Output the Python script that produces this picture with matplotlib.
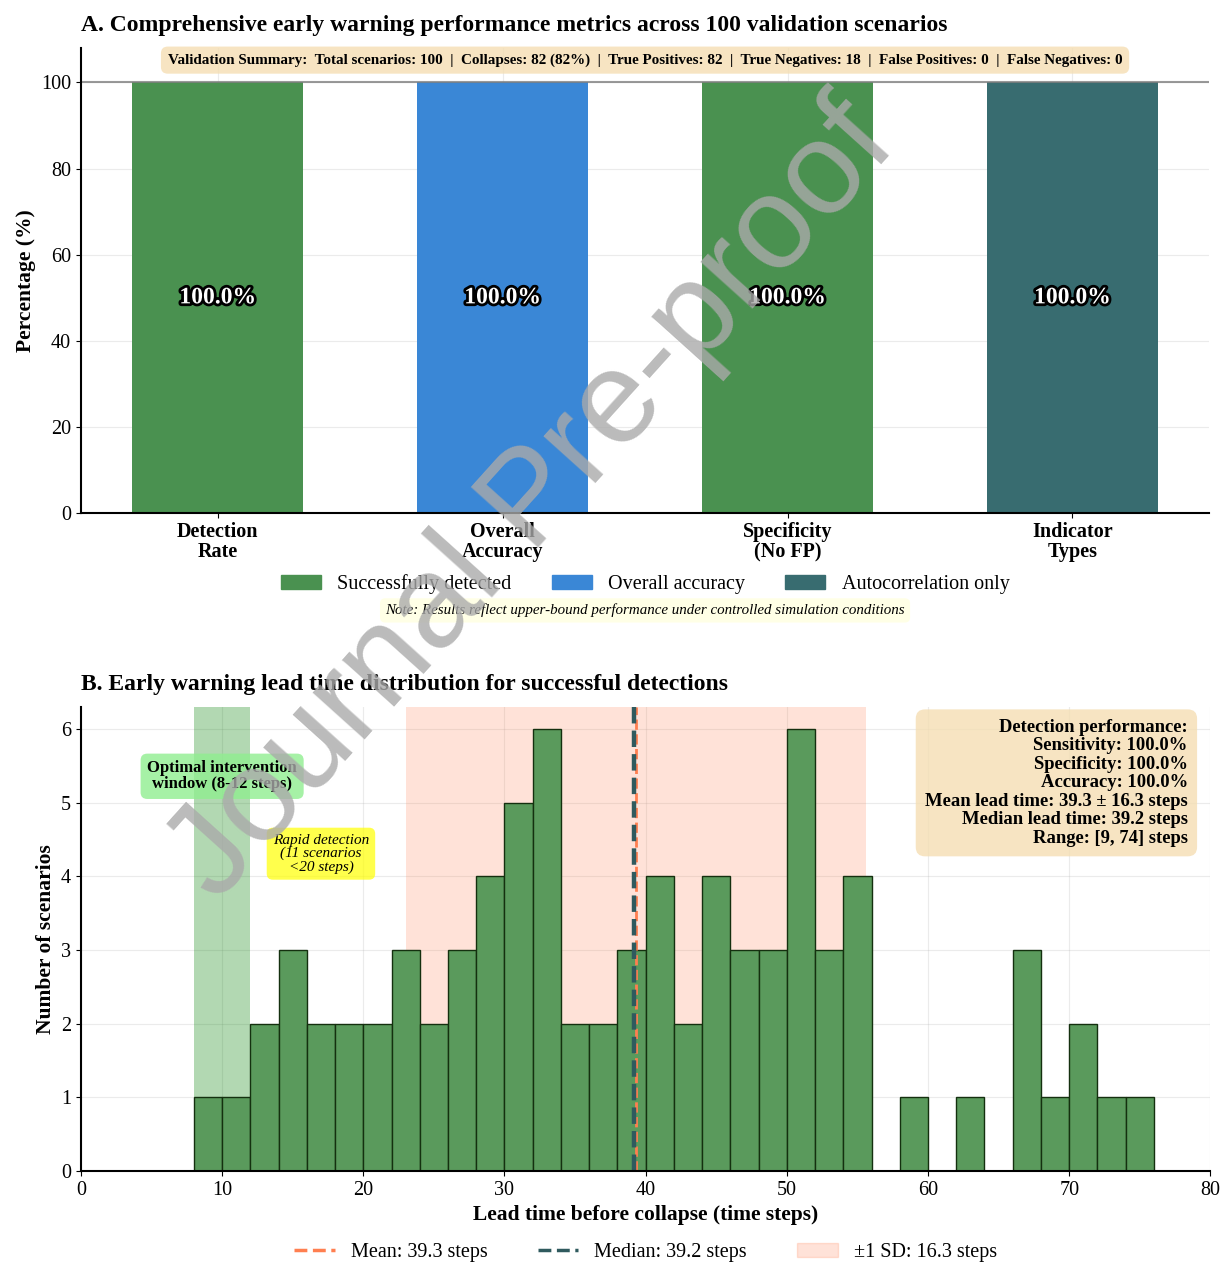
import matplotlib
matplotlib.use('Agg')
import matplotlib.pyplot as plt
import matplotlib.patheffects as pe
from matplotlib.patches import Patch
from matplotlib.lines import Line2D
import numpy as np

plt.rcParams['font.family'] = ['Liberation Serif', 'DejaVu Serif']

# panel A data
metric_names = ['Detection\nRate', 'Overall\nAccuracy', 'Specificity\n(No FP)', 'Indicator\nTypes']
metric_values = [100.0, 100.0, 100.0, 100.0]
metric_colors = ['#4a9150', '#3a87d6', '#4a9150', '#386c70']
legend_a = ['Successfully detected', 'Overall accuracy', 'Autocorrelation only']

# panel B data (histogram of lead times, bin width 2)
bin_left = [8, 10, 12, 14, 16, 18, 20, 22, 24, 26, 28, 30, 32, 34, 36, 38, 40,
            42, 44, 46, 48, 50, 52, 54, 56, 58, 60, 62, 64, 66, 68, 70, 72, 74]
bin_counts = [1, 1, 2, 3, 2, 2, 2, 3, 2, 3, 4, 5, 6, 2, 2, 3, 4,
              2, 4, 3, 3, 6, 3, 4, 0, 1, 0, 1, 0, 3, 1, 2, 1, 1]
bin_width = 2
mean_lead = 39.3
median_lead = 39.2
sd_lead = 16.3
window = (8, 12)

fig = plt.figure(figsize=(12.21, 12.64), dpi=100)
axA = fig.add_axes([0.0663, 0.594, 0.924, 0.368])
axB = fig.add_axes([0.0663, 0.0736, 0.925, 0.367])

# ---- panel A ----
x = np.arange(len(metric_names))
axA.bar(x, metric_values, width=0.6, color=metric_colors)
for xi, v in zip(x, metric_values):
    axA.text(xi, v / 2, '%.1f%%' % v, ha='center', va='center', fontsize=17,
             fontweight='bold', color='white',
             path_effects=[pe.withStroke(linewidth=4, foreground='black')])
axA.axhline(100, color='gray', lw=1.5, alpha=0.8)
axA.set_ylim(0, 108)
axA.set_xticks(x)
axA.set_xticklabels(metric_names, fontsize=14.5, fontweight='bold', linespacing=1.0)
axA.set_ylabel('Percentage (%)', fontsize=15.5, fontweight='bold')
axA.tick_params(axis='y', labelsize=14.5)
axA.tick_params(axis='x', pad=3)
axA.grid(True, alpha=0.25)
axA.set_axisbelow(True)
for s in ['top', 'right']:
    axA.spines[s].set_visible(False)
axA.spines['left'].set_linewidth(1.5)
axA.spines['bottom'].set_linewidth(1.5)
axA.set_title('A. Comprehensive early warning performance metrics across 100 validation scenarios',
              loc='left', fontsize=17, fontweight='bold', pad=12)
axA.text(0.5, 0.974,
         'Validation Summary:  Total scenarios: 100  |  Collapses: 82 (82%)  |  True Positives: 82  |  '
         'True Negatives: 18  |  False Positives: 0  |  False Negatives: 0',
         transform=axA.transAxes, ha='center', va='center', fontsize=10.9, fontweight='bold',
         bbox=dict(boxstyle='round,pad=0.45', facecolor='wheat', edgecolor='none', alpha=0.8))
handlesA = [Patch(color=metric_colors[0]), Patch(color=metric_colors[1]), Patch(color=metric_colors[3])]
axA.legend(handlesA, legend_a, loc='upper center', bbox_to_anchor=(0.5, -0.105), ncol=3,
           frameon=False, fontsize=14.5, columnspacing=2.0, handletextpad=0.8,
           borderaxespad=0.2)
axA.text(0.5, -0.209, 'Note: Results reflect upper-bound performance under controlled simulation conditions',
         transform=axA.transAxes, ha='center', va='center', fontsize=10.8, style='italic',
         bbox=dict(boxstyle='round,pad=0.35', facecolor='lightyellow', edgecolor='none', alpha=0.8))

# ---- panel B ----
axB.axvspan(window[0], window[1], color='green', alpha=0.3, lw=0)
axB.axvspan(mean_lead - sd_lead, mean_lead + sd_lead, color='coral', alpha=0.22, lw=0)
axB.bar(bin_left, bin_counts, width=bin_width, align='edge', color='#5a9a5c',
        edgecolor='#14300f', linewidth=1.0)
axB.axvline(mean_lead, color='coral', ls='--', lw=2.0)
axB.axvline(median_lead, color='#2f5a5e', ls='--', lw=3.2)
axB.set_xlim(0, 80)
axB.set_ylim(0, 6.3)
axB.set_xlabel('Lead time before collapse (time steps)', fontsize=15.5, fontweight='bold',
               labelpad=4)
axB.set_ylabel('Number of scenarios', fontsize=15.5, fontweight='bold')
axB.tick_params(labelsize=14.5)
axB.grid(True, alpha=0.25)
axB.set_axisbelow(True)
for s in ['top', 'right']:
    axB.spines[s].set_visible(False)
axB.spines['left'].set_linewidth(1.5)
axB.spines['bottom'].set_linewidth(1.5)
axB.set_title('B. Early warning lead time distribution for successful detections',
              loc='left', fontsize=17, fontweight='bold', pad=12)
axB.text(10, 5.36, 'Optimal intervention\nwindow (8-12 steps)', ha='center', va='center',
         fontsize=12, fontweight='bold', linespacing=1.0,
         bbox=dict(boxstyle='round,pad=0.4', facecolor='lightgreen', edgecolor='none', alpha=0.8))
axB.text(17, 4.31, 'Rapid detection\n(11 scenarios\n<20 steps)', ha='center', va='center',
         fontsize=11, style='italic', linespacing=1.0,
         bbox=dict(boxstyle='round,pad=0.4', facecolor='yellow', edgecolor='none', alpha=0.7))
axB.text(0.98, 0.975,
         'Detection performance:\nSensitivity: 100.0%\nSpecificity: 100.0%\nAccuracy: 100.0%\n'
         'Mean lead time: 39.3 \u00b1 16.3 steps\nMedian lead time: 39.2 steps\nRange: [9, 74] steps',
         transform=axB.transAxes, ha='right', va='top', fontsize=13.4, fontweight='bold',
         linespacing=1.12,
         bbox=dict(boxstyle='round,pad=0.5', facecolor='wheat', edgecolor='none', alpha=0.8))
handlesB = [Line2D([0], [0], color='coral', ls='--', lw=2.5),
            Line2D([0], [0], color='#2f5a5e', ls='--', lw=2.5),
            Patch(color='coral', alpha=0.22)]
axB.legend(handlesB, ['Mean: %.1f steps' % mean_lead, 'Median: %.1f steps' % median_lead,
                      '\u00b11 SD: %.1f steps' % sd_lead],
           loc='upper center', bbox_to_anchor=(0.5, -0.13), ncol=3, frameon=False,
           fontsize=14.5, columnspacing=2.5, borderaxespad=0.2)

# watermark
fig.text(0.436, 0.603, 'Journal Pre-proof', fontsize=95, color='#aaaaaa', alpha=0.8,
         rotation=48, ha='center', va='center', family=['Liberation Sans', 'DejaVu Sans'])

fig.savefig('out.png', dpi=100)
